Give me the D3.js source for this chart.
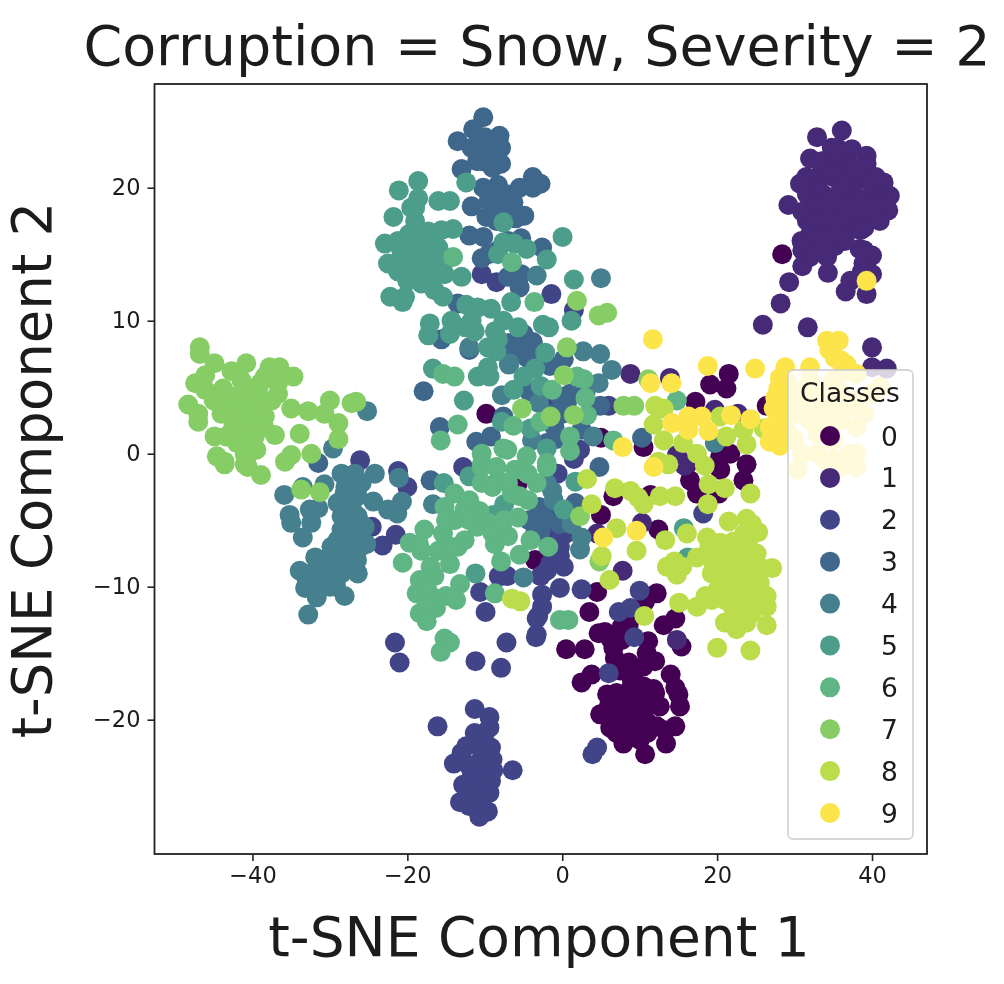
<!DOCTYPE html>
<html><head><meta charset="utf-8">
<script src="https://cdn.jsdelivr.net/npm/d3@7/dist/d3.min.js"></script>
<style>html,body{margin:0;padding:0;background:#fff}svg{display:block;filter:blur(0.7px)}text{font-family:"DejaVu Sans";fill:#1c1c1c}</style>
</head><body><svg id="c" width="1004" height="984"></svg>
<script>
const classLabels=["0","1","2","3","4","5","6","7","8","9"];
const colors=["#440154","#472a77","#414487","#3f678b","#46808e","#4c9e8b","#5fb583","#86cd66","#bbdd4c","#fbe54a"];
const xTicks=[-40,-20,0,20,40];
const yTicks=[-20,-10,0,10,20];
const xDomain=[-52.65,47.1];
const yDomain=[-30.1,27.8];
const class0=[[28.4,15],[26.4,3.6],[21.5,6],[19.1,5.2],[21.2,4.9],[17.2,3.9],[20.4,-.2],[21.7,0],[20.4,-1.2],[23.8,-.8],[23.4,-2],[16.5,-2],[17.4,-3],[16.3,-.7],[10.5,.5],[5,1.2],[5,-4.6],[6.6,-3.2],[11.4,-3.1],[20.2,-3],[12.4,-5.7],[-9.8,3],[-5.8,-2.3],[-3.5,-8],[4.5,-10.4],[3.5,-11.9],[12.2,-10.5],[10.7,-11.1],[.5,-14.7],[2.9,-14.7],[4.7,-13.5],[6.2,-13.9],[7.7,-13],[8.6,-12.8],[11.1,-14.1],[12,-15.6],[6.8,-15.4],[8.6,-15.7],[10.9,-15],[14.6,-12.4],[13.1,-12.9],[15.4,-14.5],[14,-16.6],[14.6,-17.6],[2.5,-17.2],[3.8,-16.6],[5.8,-18.1],[9,-17.1],[10.5,-17.5],[15.2,-19],[15,-18.1],[12.6,-19],[4.9,-19.6],[6.4,-20],[7.7,-19.2],[9.6,-18.5],[9.6,-19.5],[11,-19],[8.3,-20.5],[11,-20.2],[12.2,-20.5],[14.6,-20.5],[13.3,-20.8],[7.9,-21.8],[9.6,-21.1],[13.4,-21.8],[10.7,-22.6],[7.5,-19.8],[8.8,-17.7],[11.8,-17.7],[6.5,-18.8],[8.5,-18.9],[10.5,-18.6],[9.8,-20.3],[6,-19],[7,-18],[8,-18.5],[9,-20],[11,-21],[10,-21.5],[8.5,-21],[12,-18],[7,-21],[6.2,-20.6],[5.5,-13.4],[6.6,-14.6],[7.7,-14],[10.5,-16],[9.2,-16.5],[7.5,-16.3]];
const class1=[[36.1,24.3],[32.9,23.8],[34.8,23],[37.4,22.9],[39.3,22.4],[32,22.2],[35,22],[36.7,21.8],[39.3,21.8],[30.7,20.3],[32.9,20.8],[35,20.8],[37.6,20.5],[41.5,20.4],[42.3,19.4],[42.1,18.3],[29.2,18.7],[31.6,19.5],[33.7,19.5],[35.9,19.5],[38,19.3],[40.2,19.8],[41,18.8],[31.6,17.5],[33.7,18.3],[35.9,18.3],[38,18],[40.2,17.8],[32.9,17.3],[35,17.3],[37.2,17],[30.9,16],[32.9,15.5],[35.2,15.6],[33.7,16.5],[38.4,15.4],[40,14.9],[38.9,14.3],[40,13.5],[31,14.1],[34.3,13.6],[29.3,12.9],[37.2,13],[36.6,12.2],[39.3,12],[28.2,11.3],[25.9,9.7],[31.7,9.5],[40,8],[40,6.5],[41.9,6.4],[8.8,6],[13.9,5.7],[19.7,3.3],[22.7,3],[14.8,-.1],[15.8,-.9],[10.3,-5.2],[4.5,-6],[7.8,-8.8],[14.8,-14],[34,21],[36,21.2],[38.5,20.8],[32.5,18.5],[36.8,19],[39,19],[34.5,17.8],[36.5,17.6],[31,18.2],[32,16.5],[33,19],[34.5,19],[34,16],[35.5,16.5],[36.5,16],[38.5,16.8],[39,17],[41,17.5],[39.5,20.5],[40.5,20.8],[33.5,22],[35.5,23],[36,20],[37,18.5],[35,18.8],[38.5,18.5],[40,18.5],[33,20],[31.5,20.8],[31,15.3],[32,14.8],[34.2,14.8],[39,15.3],[38.7,13.7],[37.8,21.5]];
const class2=[[-10.4,13.5],[-8.5,12.9],[-12.8,-1],[-26.1,-.5],[-21.2,-1.3],[-24.6,-5.5],[-23.2,-6.9],[-21.5,-6.1],[-20,-2.5],[-21.6,-14.2],[-21,-15.7],[-11.2,-15.6],[-7.9,-16.1],[-7.2,-14.2],[-3.4,-13.8],[-11.3,-19.2],[-9.4,-19.8],[-9.4,-20.6],[-11.3,-21],[-16.1,-20.5],[-12.4,-22],[-9.2,-22.1],[-10.2,-22.5],[-14,-23.3],[-11.3,-23.4],[-8.9,-23.8],[-6.4,-23.8],[-11.7,-24.3],[-10,-24.3],[-12.8,-24.9],[-9.2,-24.6],[-11.3,-25.1],[-9.4,-25.5],[-13.2,-26.2],[-11.3,-26],[-9.6,-26.9],[-10.7,-27.3],[-12,-26.5],[-10.6,-10.4],[-9.9,-11.9],[-7.9,-9.2],[-7.1,-9.2],[-8.2,-9.2],[-3.1,-12.2],[-.3,-7],[-1.5,-8.2],[.2,-8.5],[-2.8,-9.2],[-.3,-10.1],[-2.6,-10.6],[-2.6,-11.5],[-3.3,-12.4],[-3.3,-13.6],[2.5,-10.2],[7.3,-11.9],[8.8,-11.6],[10,-10.3],[9.3,-13.8],[6,-16.5],[4.5,-22.1],[3.9,-22.6],[-1.4,12],[1.5,10.8],[6,3.6],[1.5,-.4],[2.3,.3],[-1.6,3.8],[18.2,-4.5],[-1.1,-5.5],[-1,-4.2],[-.3,-7.7],[-2,-8.8],[-1.2,-6.8],[.5,-6],[-.6,-1.5],[-10.5,-23],[-11,-24.5],[-10,-25.5],[-10.5,-26.5],[-12,-25.5],[-9,-23],[-10,-21],[-10.6,-22],[-12,-23.5],[-13,-22.5]];
const class3=[[-10.2,25.3],[-11.5,24.4],[-13.5,23.5],[-8.1,23.9],[-7.9,23],[-10,23.8],[-11.7,23],[-10.4,22],[-7.9,21.8],[-13,21.4],[-9.6,22.8],[-8.3,20.2],[-10.2,20],[-3.8,20.8],[-3.8,20],[-5.5,20],[-11.7,18.6],[-9.2,19.3],[-8.7,18.6],[-6.3,18.9],[-9.8,17.8],[-4.9,17.9],[-7,18.3],[-12,16.4],[-10.2,16.3],[-5.3,16.2],[-8.3,15.3],[-10.4,14.7],[-7,13.3],[-5.5,12.5],[-5.3,13.5],[-2.6,15.5],[-2.8,20.3],[-13.5,11.3],[-12,7.8],[-7,8.3],[-3.8,8.4],[-5.3,8],[-7,7.6],[-15.6,8.6],[-17.9,4.7],[-15.8,2],[-11.1,.9],[-9.2,1.3],[-6.7,8.3],[-3.9,8.3],[-5.4,7.7],[.2,7.1],[-1.6,6.6],[-4.3,4.7],[.6,3.8],[-.3,4.3],[4.9,3.6],[-7.6,2.8],[-.7,1.1],[2.5,1.8],[4.8,-1],[10.3,1.2],[-31.5,-.7],[-17,-2],[-3.3,-4.8],[-2.4,-4.2],[-2.8,-5.8],[-.3,-5.3],[1.7,-3.7],[-1,3],[-2,.8],[-10,23],[-9,23],[-10,22.5],[-9,21.5],[-11,22],[-9.5,19],[-8,19.5],[-7,19.5],[-6,17.7],[-8.5,17.5],[-9.5,15],[-7,16],[-5,9],[-4.5,7.2],[-6,7.5],[-1,2],[0,3],[1,4.5],[-2,3],[3,4.5],[-3,-4],[-3.5,-6],[-2,-5],[-4.3,-5]];
const class4=[[-25.2,3.2],[-29.6,.4],[-35.9,-3.1],[-35.2,-4.6],[-35,-5.2],[-33.5,-2.5],[-30.7,-2.3],[-28.5,-1.5],[-26.8,-1.5],[-24.2,-1.5],[-25.9,-2.2],[-28.1,-3],[-29,-3.7],[-26.4,-3.2],[-24.4,-3.6],[-31.5,-4.1],[-32.6,-4.2],[-32.4,-5.2],[-28.5,-4.7],[-26.4,-4.7],[-22.5,-4.2],[-20.7,-3.6],[-21.3,-4.5],[-21.1,-1.8],[-33.5,-6.3],[-28.5,-5.7],[-26.4,-5.7],[-27.6,-6.5],[-29.8,-7],[-25.3,-6.8],[-31.9,-7.8],[-30.2,-8],[-27.6,-7.5],[-33.9,-8.8],[-26.4,-9],[-32.4,-9],[-29.8,-9.2],[-28.5,-9],[-33.2,-10.1],[-31.5,-10],[-29.2,-10],[-28.1,-10.7],[-31.7,-10.8],[-32.8,-12.1],[-26.8,-3],[-27.2,-4],[-16.7,-3.8],[-6.8,6.8],[-3.3,13.4],[5,13.2],[2.7,7.7],[4.9,7.5],[6.4,6.3],[4.7,5.3],[-6.9,6.7],[-12,8],[-3,3.8],[-7.8,4.4],[4,1.3],[-5,-9.3],[1.2,-5.3],[2.5,-6.3],[2.3,-7.2],[-1.1,-3.5],[-2,-2.2],[19.7,.8],[-3.9,1],[-1.3,-2.8],[-28,-2.5],[-28,-4],[-28,-5],[-27,-6],[-26,-5.5],[-28,-7],[-29,-6.5],[-28.5,-8],[-29.5,-8],[-31,-9],[-30,-10],[-30.5,-9.5],[-32,-9.8],[-33,-9.5],[-27.5,-8.5],[-26,-7],[-26.5,-8],[-25.5,-5.5],[-27.5,-3.5]];
const class5=[[-18.6,20.5],[-21.1,19.8],[-18.6,19.2],[-16,19],[-14.5,19],[-19.5,18.5],[-21.8,17.8],[-19,17.5],[-14.1,16.9],[-15.6,16.8],[-17.3,16.7],[-22.9,15.8],[-21.2,16],[-19,16.3],[-17.3,15.5],[-22.5,14.3],[-20.8,15.3],[-20.3,14.3],[-18.6,14.5],[-21.2,13.7],[-19,13.5],[-16,13.8],[-16.9,13],[-15.2,13.5],[-13,13.3],[-18.2,12.8],[-16.5,12.3],[-15.4,11.8],[-22.2,11.8],[-20.6,11.4],[-20.3,11.8],[-12.4,20.4],[-7.6,17.4],[-7.6,15.9],[-6.2,15.8],[-4.6,15.4],[-8.3,15],[-12.4,11.2],[-10.9,11],[-9.2,10.9],[-6.6,11.4],[-14.3,10],[-17.1,9.8],[-17.3,8.9],[-14.5,9],[-11.7,10],[-11.3,9.2],[-8.7,9.2],[-7.6,10],[-5.7,9.5],[-9.6,8],[-9.6,6.5],[-8.3,8.6],[-10.9,5.8],[-9.4,5.8],[-16.7,6.4],[-12.7,4],[-2.5,9.7],[.04,16.3],[-2,14.6],[1.5,13.1],[1.2,10],[-1.7,9.5],[-2.2,7.6],[-5,5.8],[-3.5,6.4],[-6.3,4.8],[-2.8,5.1],[-7.8,2.4],[-4.1,1.9],[-2,.4],[-15.3,-2.2],[-12,-1.7],[-11.2,-9],[-7.5,-3.8],[-8.9,-4.6],[.2,-4.2],[1.7,-2.1],[16.2,-7.8],[15.7,-5.6],[-20,15],[-18,15.5],[-18,14],[-20,13],[-17,14.5],[-19,18.5],[-18,16.3],[-19.8,16.5],[-16,15.5],[-14.7,14.7],[-12.5,9.5],[-8.5,7.7]];
const class6=[[-15.4,6],[-13.9,5.8],[-14.1,14.8],[-6.5,14.4],[-3.6,11.4],[-13.5,2.2],[-15.7,1],[-7.6,.4],[-10.4,0],[-10.4,-.8],[-7.1,.3],[-6.3,2.1],[2.8,5.6],[1.9,5.8],[3,4.2],[3.2,2.9],[1,1.3],[1,.2],[-1.3,4.8],[-2.8,2.4],[-2,-.7],[-4.6,-.2],[6.6,1],[14.8,4],[-13.9,-3],[-15.2,-4],[-12.6,-4.2],[-10.7,-4.3],[-9.6,-5.2],[-13.9,-5],[-17.8,-5.7],[-15.4,-6],[-12.6,-6.5],[-19.7,-6.7],[-8.3,-6],[-7,-6.2],[-18.2,-7.3],[-16,-7.3],[-14.5,-8.3],[-20.6,-8.2],[-7.9,-8.1],[-8.7,-6.8],[-5.5,-7.6],[-4.1,-6.5],[-5.7,-4.8],[-4.4,-3.5],[-5.5,-3.2],[-10.4,-1],[-10.4,-2.2],[-8.3,-2],[-6.1,-1.2],[-3.3,-2.2],[-2,-1],[-18.4,-9.5],[-16.5,-9.2],[-18.8,-10.5],[-16.9,-10.7],[-13.2,-9.8],[-15,-10.7],[-13.7,-11],[-18.4,-12],[-17.5,-12.6],[-16.3,-11.6],[-15.2,-13.9],[-14.5,-14.2],[-15.7,-14.9],[-8.7,-10.5],[-1.8,-7],[-.3,-12.5],[.8,-12.5],[-13.5,-7],[-11,-5.5],[-17,-8.5],[-12,-5],[-15,-5],[-14.5,-7],[-18.5,-6.8],[-17.5,-10],[-17.5,-11.2],[-9,-6],[-7.5,-5],[-12,-3.5],[-8.5,-1],[-9,-2.5],[-6.5,-3],[-4.5,-1.5],[-7,-2.2]];
const class7=[[-46.8,8],[-46.8,7.5],[-44.9,6.8],[-40.8,6.8],[-37.8,6.5],[-36.5,6.5],[-34.7,5.8],[-42.7,6.2],[-46.1,5.9],[-47.4,5.3],[-46.1,4.8],[-48.3,3.7],[-47,3],[-47,2.4],[-43.8,4.9],[-41.4,5.5],[-38.4,5.8],[-36.7,5.3],[-39.3,4.8],[-42.7,4.3],[-43.6,3.8],[-40.6,4],[-37.5,4],[-36.7,4.5],[-35,3.4],[-32.8,3.2],[-30,4],[-26.6,3.9],[-27.2,3.8],[-30.7,3],[-28.9,2.3],[-33.9,1.5],[-37.1,1.4],[-44.9,1.3],[-43.4,1.3],[-41.8,2.8],[-40.1,2.3],[-38.4,2.8],[-41.4,1.5],[-39.7,1.3],[-40.6,.6],[-28.9,1.1],[-32.4,0],[-35,-.1],[-35.8,-.6],[-44.6,-.2],[-43.6,-.6],[-40.8,-.4],[-43.6,-.8],[-40.6,-1],[-38.9,-1.6],[-33.7,-2.7],[-31.3,-2.9],[-42,3.3],[-40,3.2],[-42.5,2],[1.9,11.5],[4.7,10.4],[5.8,10.6],[.6,8],[.2,5.9],[1.5,2.9],[-1.5,2.8],[-5.2,3.4],[2.3,-4.7],[7.9,3.6],[9.3,3.6],[11.1,5.6],[4.8,-8.1],[-44,3],[-41,4.5],[-39,3.5],[-39,5.3],[-42,.8],[-41,0],[-39.5,.3],[-45,4],[-38.5,2],[-40,1.8],[-41,-.8]];
const class8=[[-6.5,-10.9],[-5.4,-11.1],[10.6,-12.2],[6.1,-9.5],[5.1,-7.7],[9.6,-7.3],[7,-5.6],[3.2,-1.9],[3.8,-3.8],[6.8,-2.6],[8.8,-2.8],[9.8,-3.3],[10.5,-3.8],[12.6,-3.2],[14.6,-3.2],[13.3,-6.5],[16.1,-6],[18.9,-2.3],[21,-2.6],[24.3,-3],[18.8,-3.8],[21.5,-5.1],[23.8,-4.9],[25.3,-5.9],[18.7,-6.3],[20.4,-6.7],[22.1,-6.6],[24,-6.5],[25.1,-7.5],[17.4,-7.8],[19.5,-8.2],[21.2,-7.7],[23.4,-7.7],[27.1,-8.6],[13.5,-8.5],[14.5,-8.1],[14.8,-9.1],[19.3,-9],[21.7,-9],[24.2,-8.8],[25.5,-9.7],[22.5,-10],[24.3,-10],[15.1,-11.2],[17.4,-11.5],[19.3,-11],[21,-11],[23,-11],[24.7,-11.2],[26.4,-10.7],[26.4,-11.5],[21,-12.7],[23,-12],[22.5,-13.2],[26.4,-12.9],[23.8,-12.7],[20,-14.6],[24.3,-14.8],[12,3.6],[13.1,3.4],[11.8,2.2],[13.1,1],[15.6,.8],[17.4,0],[18.4,-.9],[12.4,-.6],[13.7,-.8],[21.2,1.3],[23.4,1.8],[23.8,.7],[20.4,2.8],[26,1.9],[19,-7],[21,-8.5],[23,-8.5],[20.5,-9.5],[23,-9.7],[25,-10.5],[22,-11.5],[20,-10.3],[23.5,-6],[24.5,-5.3],[25.5,-8.5],[18.5,-10.7],[24.5,-12],[15.5,-8.5]];
const class9=[[11.7,8.6],[18.8,6.6],[24.9,6.4],[11.4,5.3],[14.1,5.3],[7.8,.5],[11.8,-1],[14.2,2.3],[16.3,2.8],[18,2.8],[16.3,1.8],[18.9,1.7],[21.8,2.9],[24.3,2.6],[39.3,13],[34.2,8.5],[35.7,8.5],[35.2,7.2],[36.7,6.7],[28.8,6.5],[32,6.5],[28.1,5.7],[27.9,4.9],[29,4.5],[28.6,3.5],[26.8,2],[28.1,2.2],[28.1,.6],[29.8,1.2],[5.3,-6.3],[9.6,-5.8],[30.4,-1.2],[34,-.5],[36,-1],[38,-1],[37,0],[35,1],[33,1.5],[30,1],[32,2.5],[34,3],[36,2.5],[38,2],[33,4.5],[36,4.5],[38,4],[40,4.5],[41,5],[38,6],[35,5.5],[32,5.5],[30,4.5],[30,3],[27.5,4.2],[27.3,3.4],[26.8,.9],[27.5,1.5],[29,5.5],[29,2.8],[29,1.7],[36,6],[34.5,7.8],[36,7],[31,0],[33,0],[35,-.5],[38,0],[34,2],[31,3.5],[33,3.2],[35,3.5],[37,3.5],[39,3],[34.5,4.5],[31,4.7]];
const seriesList=[class0,class1,class2,class3,class4,class5,class6,class7,class8,class9];

const svg=d3.select("#c");
const L=154.5,R=927,T=84,B=854;
const x=d3.scaleLinear().domain(xDomain).range([L,R]);
const y=d3.scaleLinear().domain(yDomain).range([B,T]);
const fmt=d=>String(d).replace("-","\u2212");

seriesList.forEach((pts,i)=>{
  svg.append("g").selectAll("circle").data(pts).join("circle")
    .attr("cx",d=>x(d[0])).attr("cy",d=>y(d[1])).attr("r",10).attr("fill",colors[i]);
});
svg.append("rect").attr("x",L).attr("y",T).attr("width",R-L).attr("height",B-T).attr("fill","none").attr("stroke","#222").attr("stroke-width",1.8);

const ax=svg.append("g").attr("transform",`translate(0,${B})`).call(d3.axisBottom(x).tickValues(xTicks).tickFormat(fmt).tickSize(7).tickPadding(6));
const ay=svg.append("g").attr("transform",`translate(${L},0)`).call(d3.axisLeft(y).tickValues(yTicks).tickFormat(fmt).tickSize(7).tickPadding(7));
[ax,ay].forEach(a=>{a.select(".domain").remove();a.selectAll("line").attr("stroke","#222").attr("stroke-width",1.6);a.selectAll("text").attr("font-size",22.5).attr("font-family","DejaVu Sans").attr("fill","#1c1c1c");});

svg.append("text").attr("x",537).attr("y",65).attr("text-anchor","middle").attr("font-size",55.5).text("Corruption = Snow, Severity = 2");
svg.append("text").attr("x",539).attr("y",956).attr("text-anchor","middle").attr("font-size",55).text("t-SNE Component 1");
svg.append("text").attr("transform","translate(51,470) rotate(-90)").attr("text-anchor","middle").attr("font-size",54.5).text("t-SNE Component 2");

const lg=svg.append("g");
lg.append("rect").attr("x",788).attr("y",370).attr("width",125).attr("height",469).attr("rx",5).attr("fill","#fff").attr("fill-opacity",.8).attr("stroke","#ccc").attr("stroke-opacity",.8).attr("stroke-width",1.8);
lg.append("text").attr("x",850).attr("y",402).attr("text-anchor","middle").attr("font-size",26.5).text("Classes");
const ly=d3.scalePoint().domain(classLabels).range([436,813]);
const row=lg.selectAll("g.row").data(classLabels).join("g").attr("class","row");
row.append("circle").attr("cx",830).attr("cy",d=>ly(d)).attr("r",10).attr("fill",(d,i)=>colors[i]);
row.append("text").attr("x",881).attr("y",d=>ly(d)+9.5).attr("font-size",26.5).text(d=>d);
</script></body></html>
